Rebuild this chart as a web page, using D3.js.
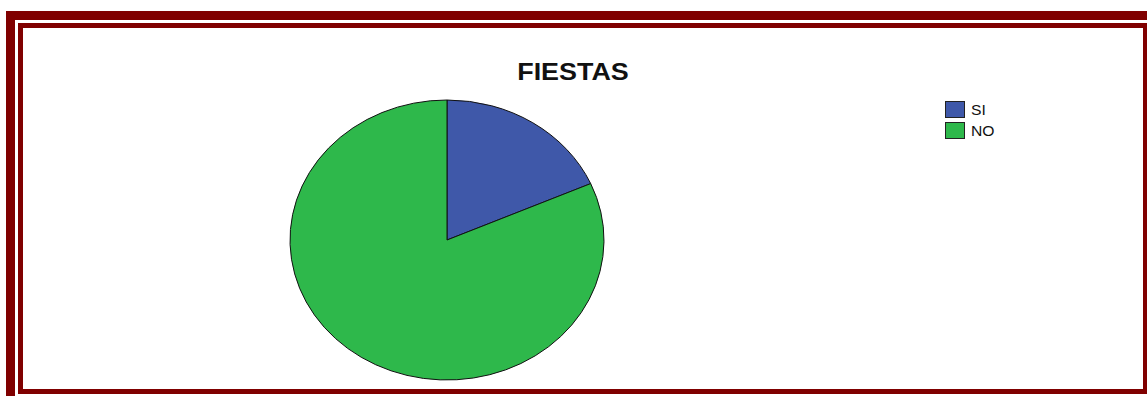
<!DOCTYPE html>
<html>
<head>
<meta charset="utf-8">
<script src="https://cdn.jsdelivr.net/npm/d3@7"></script>
<style>
  html, body { margin: 0; padding: 0; background: #fff; }
  svg { display: block; }
</style>
</head>
<body>
<svg id="chart" width="1147" height="396"></svg>
<script>
// Survey answers for "FIESTAS" (share of respondents, %)
const categories = ["SI", "NO"];
const values = [18.4, 81.6];
const colors = ["#3F58A9", "#2EB84B"];
const title = "FIESTAS";

const svg = d3.select("#chart");
const frameColor = "#800000";

// Double frame around the chart
svg.append("rect").attr("x", 6).attr("y", 11).attr("width", 1141).attr("height", 9).attr("fill", frameColor);
svg.append("rect").attr("x", 6).attr("y", 11).attr("width", 9).attr("height", 385).attr("fill", frameColor);
svg.append("rect").attr("x", 18).attr("y", 23).attr("width", 1129).attr("height", 371).attr("fill", frameColor);
svg.append("rect").attr("x", 23).attr("y", 28).attr("width", 1120).attr("height", 361).attr("fill", "#fff");

// Horizontal stretch applied to the plot content
const sx = 157 / 140;

// Title
svg.append("g")
  .attr("transform", `translate(573,80) scale(${sx},1)`)
  .append("text")
  .attr("text-anchor", "middle")
  .attr("font-family", "Liberation Sans, Arial, sans-serif")
  .attr("font-weight", "bold")
  .attr("font-size", 24)
  .attr("fill", "#111")
  .text(title);

// Pie
const radius = 140;
const pie = d3.pie().sort(null).value(d => d.value);
const arc = d3.arc().innerRadius(0).outerRadius(radius);
const data = categories.map((c, i) => ({ name: c, value: values[i] }));
const color = d3.scaleOrdinal().domain(categories).range(colors);

svg.append("g")
  .attr("transform", `translate(447,240) scale(${sx},1)`)
  .selectAll("path")
  .data(pie(data))
  .join("path")
  .attr("d", arc)
  .attr("fill", d => color(d.data.name))
  .attr("stroke", "#111")
  .attr("stroke-width", 1)
  .attr("vector-effect", "non-scaling-stroke");

// Legend
const legend = svg.append("g").attr("transform", "translate(945,101)");
const rowH = 21;
const items = legend.selectAll("g")
  .data(categories)
  .join("g")
  .attr("transform", (d, i) => `translate(0,${i * rowH})`);
items.append("rect")
  .attr("x", 0.5).attr("y", 0.5)
  .attr("width", 19).attr("height", 16)
  .attr("fill", d => color(d))
  .attr("stroke", "#222")
  .attr("stroke-width", 1);
items.append("text")
  .attr("transform", `translate(26,14) scale(${sx},1)`)
  .attr("font-family", "Liberation Sans, Arial, sans-serif")
  .attr("font-size", 14)
  .attr("fill", "#111")
  .text(d => d);
</script>
</body>
</html>
